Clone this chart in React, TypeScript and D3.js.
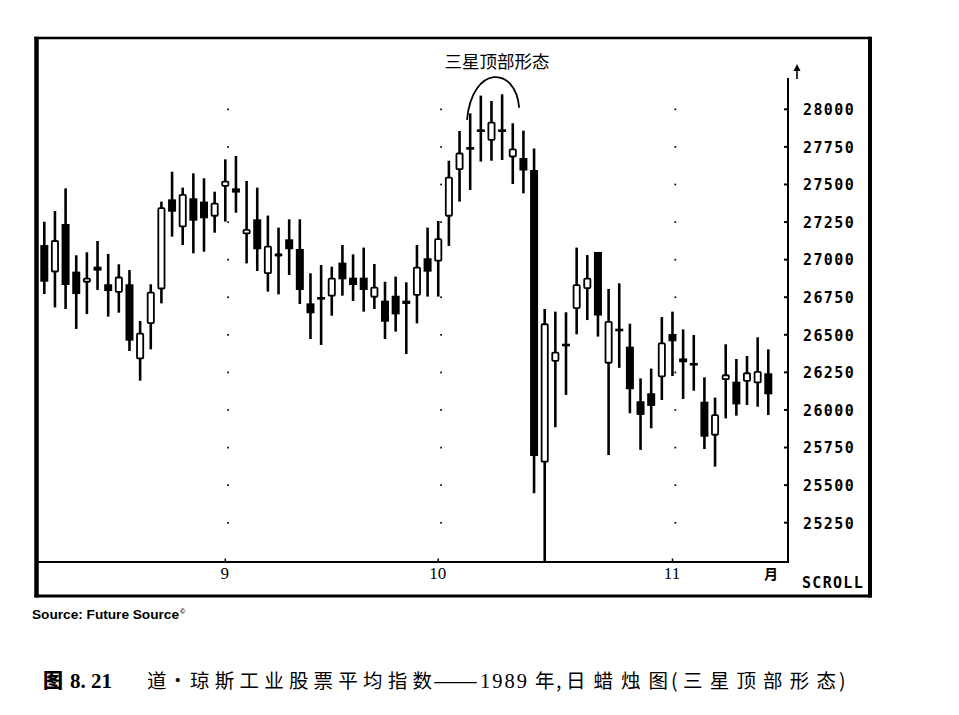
import React from "react";
import * as d3 from "d3";

// ---- data (Dow Jones Industrial Average x10, daily, Aug–Nov 1989) ----
const opens = [
  27097, 26915, 27237, 26920, 26847, 26953, 26836, 26780, 26836, 26337,
  26572, 26802, 27401, 27215, 27408, 27386, 27286, 27485, 27474, 27168,
  27268, 26904, 27020, 27135, 27071, 26709, 26745, 26754, 26980, 26880,
  26880, 26747, 26727, 26760, 26727, 26760, 27009, 26987, 27286, 27596,
  27745, 27863, 27791, 27863, 27680, 27676, 27596, 25650, 26321, 26437,
  26672, 26805, 27051, 26308, 26537, 26421, 26058, 26111, 26218, 26505,
  26343, 26309, 26055, 25829, 26199, 26188, 26188, 26177, 26244,
];
const highs = [
  27252, 27323, 27474, 27029, 27049, 27124, 27038, 26969, 26931, 26592,
  26836, 27386, 27585, 27479, 27574, 27541, 27452, 27667, 27689, 27523,
  27479, 27293, 27213, 27268, 27268, 26909, 26964, 26953, 27097, 27035,
  27080, 26971, 26853, 26887, 26849, 27097, 27213, 27257, 27658, 27856,
  27973, 28091, 28055, 28100, 27907, 27858, 27740, 26672, 26654, 26650,
  27080, 27031, 27051, 26805, 26842, 26574, 26210, 26275, 26618, 26654,
  26536, 26499, 26217, 26082, 26437, 26339, 26359, 26483, 26403,
];
const lows = [
  26771, 26682, 26672, 26539, 26638, 26798, 26621, 26647, 26392, 26195,
  26403, 26709, 27153, 27097, 27042, 27053, 27179, 27253, 27312, 26975,
  26924, 26787, 26769, 26898, 26705, 26472, 26432, 26627, 26760, 26725,
  26654, 26672, 26472, 26521, 26372, 26576, 26754, 26754, 27091, 27386,
  27463, 27652, 27658, 27663, 27503, 27441, 25446, 24900, 25885, 26100,
  26503, 26598, 26488, 25700, 26280, 25978, 25734, 25878, 26066, 26226,
  26073, 26128, 25740, 25623, 25944, 25962, 26033, 26022, 25966,
];
const closes = [
  26853, 27130, 26831, 26771, 26880, 26927, 26791, 26887, 26461, 26514,
  26787, 27348, 27319, 27437, 27259, 27275, 27379, 27525, 27446, 27204,
  27069, 27093, 27042, 27069, 26798, 26643, 26740, 26880, 26869, 26831,
  26798, 26820, 26587, 26636, 26705, 26953, 26920, 27142, 27552, 27712,
  27735, 27853, 27918, 27853, 27740, 27593, 25694, 26576, 26388, 26427,
  26836, 26880, 26628, 26592, 26527, 26138, 25967, 26027, 26449, 26457,
  26317, 26299, 25822, 25971, 26237, 26037, 26250, 26259, 26104,
];

const priceTicks = [28000, 27750, 27500, 27250, 27000, 26750, 26500, 26250, 26000, 25750, 25500, 25250];
const monthTickIndex = [17, 37, 59];
const monthLabels = ["9", "10", "11"];
const monthUnit = "月";
const patternLabel = "三星顶部形态";
// arc over the three-star top: [index, price] of start, control, control, end
const patternArcIdx = [39.7, 40.2, 44.3, 44.6];
const patternArcPrice = [27930, 28300, 28290, 28010];
const sourceText = "Source:  Future Source";
const captionHead = "图";
const captionNum = "8. 21";
// caption segments: text, start x, fitted width (0 = natural), serif?, stretch glyphs?
const captionSegText = ["道", "·", "琼斯工业股票平均指数", "——", "1989", "年", ",", "日蜡烛图", "(", "三星顶部形态", ")"];
const captionSegX = [147, 168, 190, 433, 480, 535, 556, 566, 671, 683, 839];
const captionSegW = [0, 0, 242, 45, 47, 0, 0, 102, 0, 153, 0];
const captionSegSerif = [false, false, false, false, true, false, false, false, false, false, false];
const captionSegStretch = [false, false, false, true, false, false, false, false, false, false, false];

const W = 959;
const H = 715;
const axisX = 788;
const axisBottom = 562;

export default function App() {
  const x = d3.scaleLinear().domain([0, opens.length - 1]).range([44.3, 768.3]);
  const y = d3.scaleLinear().domain([25250, 28000]).range([522.7, 109.3]);

  const candles = opens.map((o, i) => ({ o, h: highs[i], l: lows[i], c: closes[i], i }));
  const bw = 8;
  const mono = "'DejaVu Sans Mono', 'Liberation Mono', monospace";

  const ap = patternArcIdx.map((v, k) => [x(v), y(patternArcPrice[k])]);
  const arcPath = `M${ap[0][0]},${ap[0][1]} C${ap[1][0]},${ap[1][1]} ${ap[2][0]},${ap[2][1]} ${ap[3][0]},${ap[3][1]}`;

  return (
    <svg
      width={W}
      height={H}
      viewBox={`0 0 ${W} ${H}`}
      style={{ position: "absolute", left: 0, top: 0, background: "#fff" }}
    >
      <defs>
        <clipPath id="plotClip">
          <rect x={38} y={40} width={axisX - 38} height={axisBottom - 40} />
        </clipPath>
      </defs>
      <rect x={0} y={0} width={W} height={H} fill="#fff" />

      {/* frame */}
      <line x1={34.5} y1={38} x2={871} y2={38} stroke="#000" strokeWidth={2.5} />
      <line x1={36.5} y1={36.8} x2={36.5} y2={597.5} stroke="#000" strokeWidth={4.5} />
      <line x1={34.5} y1={596} x2={872} y2={596} stroke="#000" strokeWidth={3} />
      <line x1={870} y1={36.8} x2={870} y2={597.5} stroke="#000" strokeWidth={4} />

      {/* grid dots */}
      {monthTickIndex.map((mi, k) =>
        priceTicks.map((p) => (
          <rect key={`d${k}-${p}`} x={x(mi) + 2} y={y(p) - 0.8} width={1.7} height={1.7} fill="#000" />
        ))
      )}

      {/* candles */}
      <g clipPath="url(#plotClip)">
        {candles.map((d) => {
          const cx = x(d.i);
          const top = y(Math.max(d.o, d.c));
          const bot = y(Math.min(d.o, d.c));
          const up = d.c > d.o;
          const small = bot - top < 3;
          return (
            <g key={d.i}>
              <line x1={cx} x2={cx} y1={y(d.h)} y2={y(d.l)} stroke="#000" strokeWidth={2.6} />
              {small ? (
                <rect x={cx - bw / 2} y={(top + bot) / 2 - 1.3} width={bw} height={2.6} fill="#000" />
              ) : up ? (
                <rect
                  x={cx - bw / 2 + 0.9}
                  y={top + 0.9}
                  width={bw - 1.8}
                  height={bot - top - 1.8}
                  fill="#fff"
                  stroke="#000"
                  strokeWidth={1.8}
                  rx={1}
                />
              ) : (
                <rect x={cx - bw / 2} y={top} width={bw} height={bot - top} fill="#000" />
              )}
            </g>
          );
        })}
      </g>

      {/* x axis */}
      <line x1={37} y1={axisBottom} x2={axisX} y2={axisBottom} stroke="#000" strokeWidth={2} />
      {monthTickIndex.map((mi, k) => (
        <g key={`m${k}`}>
          <line x1={x(mi)} x2={x(mi)} y1={axisBottom} y2={axisBottom - 3.5} stroke="#000" strokeWidth={1.5} />
          <text
            x={x(mi) - 0.5}
            y={579}
            textAnchor="middle"
            fontFamily="'Liberation Serif', 'DejaVu Serif', serif"
            fontSize={17}
            fill="#000"
          >
            {monthLabels[k]}
          </text>
        </g>
      ))}
      <text x={771} y={579} textAnchor="middle" fontFamily="'Noto Sans CJK SC'" fontWeight={700} fontSize={14} fill="#000">
        {monthUnit}
      </text>
      <text x={802} y={588} fontFamily={mono} fontWeight={700} fontSize={15} letterSpacing={1.3} fill="#000">
        SCROLL
      </text>

      {/* y axis */}
      <line x1={axisX} y1={78} x2={axisX} y2={axisBottom + 1} stroke="#000" strokeWidth={2} />
      <line x1={797} y1={70} x2={797} y2={79} stroke="#000" strokeWidth={1.6} />
      <path d="M797,64 L793.5,71 L800.5,71 Z" fill="#000" />
      {priceTicks.map((p) => (
        <g key={`t${p}`}>
          <line x1={axisX - 4} x2={axisX} y1={y(p)} y2={y(p)} stroke="#000" strokeWidth={2} />
          <text x={803} y={y(p) + 5.8} fontFamily={mono} fontWeight={700} fontSize={15} letterSpacing={1.4} fill="#000">
            {p}
          </text>
        </g>
      ))}

      {/* pattern annotation */}
      <path d={arcPath} fill="none" stroke="#000" strokeWidth={1.8} />
      <text x={497} y={68} textAnchor="middle" fontFamily="'Noto Sans CJK SC'" fontSize={17.5} fill="#000">
        {patternLabel}
      </text>

      {/* source */}
      <text x={32} y={619} fontFamily="'Liberation Sans', Arial, sans-serif" fontWeight={700} fontSize={12} textLength={147} lengthAdjust="spacingAndGlyphs" fill="#000">
        {sourceText}
      </text>
      <text x={180} y={614} fontFamily="'Liberation Sans', Arial, sans-serif" fontWeight={700} fontSize={7} fill="#000">
        ©
      </text>

      {/* caption */}
      <text x={43} y={688} fontFamily="'Noto Sans CJK SC'" fontWeight={900} fontSize={20} fill="#000">
        {captionHead}
      </text>
      <text x={70} y={688} fontFamily="'Liberation Serif', serif" fontWeight={700} fontSize={21} fill="#000">
        {captionNum}
      </text>
      {captionSegText.map((t, k) => (
        <text
          key={`c${k}`}
          x={captionSegX[k]}
          y={688}
          fontFamily={captionSegSerif[k] ? "'Liberation Serif', serif" : "'Noto Sans CJK SC'"}
          fontSize={captionSegSerif[k] ? 20.5 : 19.5}
          textLength={captionSegW[k] || undefined}
          lengthAdjust={captionSegW[k] ? (captionSegStretch[k] ? "spacingAndGlyphs" : "spacing") : undefined}
          fill="#000"
        >
          {t}
        </text>
      ))}
    </svg>
  );
}
